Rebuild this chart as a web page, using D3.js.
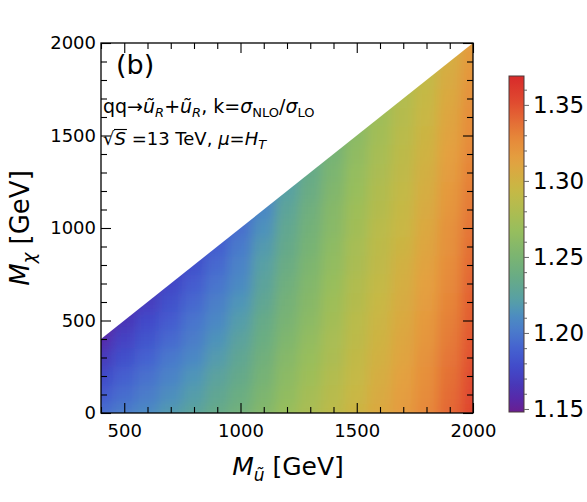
<!DOCTYPE html>
<html><head><meta charset="utf-8">
<script src="https://cdn.jsdelivr.net/npm/d3@7"></script>
<style>
html,body{margin:0;padding:0;background:#fff;}
svg{display:block;font-family:"DejaVu Sans",sans-serif;}
</style></head>
<body>
<svg id="chart" width="587" height="502"></svg>
<script>
// ---------- data ----------
const mSquark = [400,500,600,700,800,900,1000,1100,1200,1300,1400,1500,1600,1700,1800,1900,2000];
const mChi = [0,100,200,300,400,500,600,700,800,900,1000,1100,1200,1300,1400,1500,1600,1700,1800,1900,2000];
// k-factor, one row per M_chi value, one column per M_squark value
const kValues = [
 [1.195,1.203,1.210,1.218,1.226,1.235,1.244,1.256,1.268,1.278,1.288,1.298,1.308,1.317,1.328,1.341,1.355],
 [1.186,1.195,1.203,1.212,1.220,1.230,1.239,1.252,1.264,1.275,1.285,1.296,1.306,1.315,1.326,1.339,1.353],
 [1.176,1.188,1.197,1.206,1.215,1.225,1.234,1.247,1.261,1.271,1.282,1.293,1.304,1.313,1.324,1.337,1.351],
 [1.167,1.180,1.190,1.200,1.209,1.219,1.230,1.243,1.257,1.268,1.279,1.291,1.301,1.311,1.322,1.335,1.349],
 [1.158,1.173,1.183,1.193,1.203,1.214,1.225,1.239,1.253,1.265,1.277,1.288,1.299,1.309,1.320,1.333,1.347],
 [1.149,1.165,1.177,1.187,1.198,1.209,1.220,1.235,1.249,1.261,1.274,1.286,1.297,1.307,1.318,1.331,1.345],
 [null,1.157,1.170,1.181,1.192,1.204,1.215,1.230,1.246,1.258,1.271,1.283,1.295,1.305,1.316,1.329,1.344],
 [null,null,1.163,1.175,1.187,1.198,1.210,1.226,1.242,1.255,1.268,1.281,1.292,1.303,1.314,1.327,1.342],
 [null,null,null,1.169,1.181,1.193,1.206,1.222,1.238,1.252,1.265,1.278,1.290,1.301,1.312,1.325,1.340],
 [null,null,null,null,1.175,1.188,1.201,1.218,1.234,1.248,1.262,1.276,1.288,1.298,1.310,1.323,1.338],
 [null,null,null,null,null,1.183,1.196,1.213,1.231,1.245,1.259,1.273,1.286,1.296,1.308,1.322,1.336],
 [null,null,null,null,null,null,1.191,1.209,1.227,1.242,1.257,1.271,1.283,1.294,1.306,1.320,1.334],
 [null,null,null,null,null,null,null,1.205,1.223,1.238,1.254,1.268,1.281,1.292,1.304,1.318,1.332],
 [null,null,null,null,null,null,null,null,1.219,1.235,1.251,1.266,1.279,1.290,1.302,1.316,1.330],
 [null,null,null,null,null,null,null,null,null,1.232,1.248,1.263,1.276,1.288,1.300,1.314,1.328],
 [null,null,null,null,null,null,null,null,null,null,1.245,1.261,1.274,1.286,1.298,1.312,1.326],
 [null,null,null,null,null,null,null,null,null,null,null,1.259,1.272,1.284,1.296,1.310,1.325],
 [null,null,null,null,null,null,null,null,null,null,null,null,1.270,1.282,1.294,1.308,1.323],
 [null,null,null,null,null,null,null,null,null,null,null,null,null,1.280,1.292,1.306,1.321],
 [null,null,null,null,null,null,null,null,null,null,null,null,null,null,1.290,1.304,1.319],
 [null,null,null,null,null,null,null,null,null,null,null,null,null,null,null,1.302,1.317]
];
const xMajorTicks = [500,1000,1500,2000];
const yMajorTicks = [0,500,1000,1500,2000];
const cbMajorTicks = [1.15,1.20,1.25,1.30,1.35];
const cbTickLabels = ["1.15","1.20","1.25","1.30","1.35"];
const colorValues = [1.148,1.156,1.166,1.176,1.189,1.200,1.209,1.215,1.222,1.235,1.250,1.268,1.281,1.295,1.314,1.327,1.340,1.352,1.369];
const colorStops  = ["#6a1e90","#5828a8","#4838b8","#4248c8","#4460d0","#4a78cc","#4c88c4","#4f95b8","#58a0a4","#66aa88","#7ab472","#98be5c","#b0bc50","#c8b844","#e4a040","#e68a3a","#e46a35","#e04a30","#d82a2a"];

// ---------- layout ----------
const svg = d3.select("#chart");
const L=101, R=473, T=43, B=413;
const x = d3.scaleLinear().domain([400,2000]).range([L,R]);
const y = d3.scaleLinear().domain([0,2000]).range([B,T]);
const color = d3.scaleLinear().domain(colorValues).range(colorStops).clamp(true);

svg.append("rect").attr("width",587).attr("height",502).attr("fill","#fff");

const defs = svg.append("defs");
defs.append("clipPath").attr("id","tri").append("path")
  .attr("d", d3.line()([[x(400),y(0)],[x(2000),y(0)],[x(2000),y(2000)],[x(400),y(400)]]) + "Z");
const f = defs.append("filter").attr("id","blur")
  .attr("x",-0.1).attr("y",-0.1).attr("width",1.2).attr("height",1.2);
f.append("feGaussianBlur").attr("stdDeviation",6);

const cells = [];
kValues.forEach((row,i)=>row.forEach((v,j)=>{ if(v!==null) cells.push({mx:mSquark[j], my:mChi[i], v}); }));

const heat = svg.append("g").attr("clip-path","url(#tri)")
  .append("g").attr("filter","url(#blur)");
heat.selectAll("rect").data(cells).join("rect")
  .attr("x", d=>x(d.mx-50)-0.5)
  .attr("y", d=>y(d.my+50)-0.5)
  .attr("width", d=>x(d.mx+50)-x(d.mx-50)+1)
  .attr("height", d=>y(d.my-50)-y(d.my+50)+1)
  .attr("fill", d=>color(d.v));

// ---------- axes ----------
const xMinor = d3.range(400,2001,100).filter(v=>!xMajorTicks.includes(v));
const yMinor = d3.range(0,2001,100).filter(v=>!yMajorTicks.includes(v));
function styleAxis(g){ g.select(".domain").remove(); g.selectAll("line").attr("stroke","#000").attr("stroke-width",1.1); g.selectAll("text").attr("font-size",18).attr("fill","#000").attr("font-family","DejaVu Sans"); }

svg.append("g").attr("transform",`translate(0,${B})`)
  .call(d3.axisBottom(x).tickValues(xMajorTicks).tickSize(-10).tickPadding(11).tickFormat(d3.format("d"))).call(styleAxis);
svg.append("g").attr("transform",`translate(0,${B})`)
  .call(d3.axisBottom(x).tickValues(xMinor).tickSize(-6).tickFormat("")).call(styleAxis);
svg.append("g").attr("transform",`translate(0,${T})`)
  .call(d3.axisTop(x).tickValues(xMajorTicks).tickSize(-10).tickFormat("")).call(styleAxis);
svg.append("g").attr("transform",`translate(0,${T})`)
  .call(d3.axisTop(x).tickValues(xMinor).tickSize(-6).tickFormat("")).call(styleAxis);
svg.append("g").attr("transform",`translate(${L},0)`)
  .call(d3.axisLeft(y).tickValues(yMajorTicks).tickSize(-10).tickPadding(5).tickFormat(d3.format("d"))).call(styleAxis);
svg.append("g").attr("transform",`translate(${L},0)`)
  .call(d3.axisLeft(y).tickValues(yMinor).tickSize(-6).tickFormat("")).call(styleAxis);
svg.append("g").attr("transform",`translate(${R},0)`)
  .call(d3.axisRight(y).tickValues(yMajorTicks).tickSize(-10).tickFormat("")).call(styleAxis);
svg.append("g").attr("transform",`translate(${R},0)`)
  .call(d3.axisRight(y).tickValues(yMinor).tickSize(-6).tickFormat("")).call(styleAxis);

svg.append("rect").attr("x",L).attr("y",T).attr("width",R-L).attr("height",B-T)
  .attr("fill","none").attr("stroke","#000").attr("stroke-width",1.3);

// ---------- axis titles ----------
const xt = svg.append("text").attr("x",(L+R)/2+1).attr("y",475).attr("text-anchor","middle")
  .attr("font-size",25).attr("fill","#000");
xt.append("tspan").attr("font-style","italic").text("M");
xt.append("tspan").attr("font-style","italic").attr("font-size",17).attr("dy",6).text("ũ");
xt.append("tspan").attr("dy",-6).text(" [GeV]");

const yt = svg.append("text").attr("transform",`translate(29,${(T+B)/2}) rotate(-90)`)
  .attr("text-anchor","middle").attr("font-size",26).attr("fill","#000");
yt.append("tspan").attr("font-style","italic").text("M");
yt.append("tspan").attr("font-style","italic").attr("font-size",18).attr("dy",6).text("χ");
yt.append("tspan").attr("dy",-6).text(" [GeV]");

// ---------- annotations ----------
svg.append("text").attr("x",116).attr("y",74).attr("font-size",27).attr("fill","#000").text("(b)");

const a1 = svg.append("text").attr("x",103).attr("y",113).attr("font-size",19).attr("fill","#000");
a1.append("tspan").text("qq→");
a1.append("tspan").attr("font-style","italic").text("ũ");
a1.append("tspan").attr("font-style","italic").attr("font-size",13).attr("dy",4).text("R");
a1.append("tspan").attr("dy",-4).text("+");
a1.append("tspan").attr("font-style","italic").text("ũ");
a1.append("tspan").attr("font-style","italic").attr("font-size",13).attr("dy",4).text("R");
a1.append("tspan").attr("dy",-4).text(", k=");
a1.append("tspan").attr("font-style","italic").text("σ");
a1.append("tspan").attr("font-size",13).attr("dy",4).text("NLO");
a1.append("tspan").attr("dy",-4).text("/");
a1.append("tspan").attr("font-style","italic").text("σ");
a1.append("tspan").attr("font-size",13).attr("dy",4).text("LO");

const a2 = svg.append("text").attr("x",103).attr("y",145).attr("font-size",18).attr("fill","#000");
a2.append("tspan").text("√");
a2.append("tspan").attr("font-style","italic").text("S");
a2.append("tspan").text(" =13 TeV, ");
a2.append("tspan").attr("font-style","italic").text("μ");
a2.append("tspan").text("=");
a2.append("tspan").attr("font-style","italic").text("H");
a2.append("tspan").attr("font-style","italic").attr("font-size",13).attr("dy",4).text("T");
// overline of the square root
const n2 = a2.node();
const eR = n2.getExtentOfChar(0), eS = n2.getExtentOfChar(1);
svg.append("line").attr("x1",eR.x+eR.width-0.5).attr("x2",eS.x+eS.width+1)
  .attr("y1",eR.y+1.5).attr("y2",eR.y+1.5).attr("stroke","#000").attr("stroke-width",1.1);

// ---------- colour bar ----------
const cbX=509, cbW=15, cbT=76, cbB=412;
const cy = d3.scaleLinear().domain([1.148,1.369]).range([cbB,cbT]);
const grad = defs.append("linearGradient").attr("id","cbgrad").attr("x1",0).attr("y1",1).attr("x2",0).attr("y2",0);
d3.range(0,1.0001,0.02).forEach(t=>{
  const v = 1.148 + t*(1.369-1.148);
  grad.append("stop").attr("offset",t).attr("stop-color",color(v));
});
svg.append("rect").attr("x",cbX).attr("y",cbT).attr("width",cbW).attr("height",cbB-cbT)
  .attr("fill","url(#cbgrad)").attr("stroke","#4a3a3a").attr("stroke-width",1);
const cbMinor = d3.range(1.15,1.3601,0.01).map(v=>+v.toFixed(2)).filter(v=>!cbMajorTicks.includes(v));
function styleCb(g){ g.select(".domain").remove(); g.selectAll("line").attr("stroke","#666").attr("stroke-width",1); g.selectAll("text").attr("font-size",23).attr("fill","#000").attr("font-family","DejaVu Sans"); }
svg.append("g").attr("transform",`translate(${cbX+cbW},0)`)
  .call(d3.axisRight(cy).tickValues(cbMajorTicks).tickSize(5).tickPadding(4).tickFormat((d,i)=>cbTickLabels[i])).call(styleCb);
svg.append("g").attr("transform",`translate(${cbX+cbW},0)`)
  .call(d3.axisRight(cy).tickValues(cbMinor).tickSize(3).tickFormat("")).call(styleCb);
</script>
</body></html>
